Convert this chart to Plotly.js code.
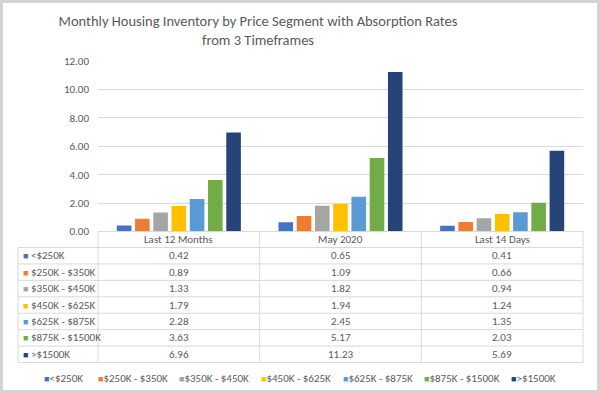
<!DOCTYPE html>
<html>
<head>
<meta charset="utf-8">
<script src="https://cdn.plot.ly/plotly-3.0.1.min.js"></script>
<style>html,body{margin:0;padding:0;background:#fff;}#chart{width:600px;height:393px;}</style>
</head>
<body>
<div id="chart"></div>
<script>
// ---- data ----
const categories = ['Last 12 Months', 'May 2020', 'Last 14 Days'];
const segments = ['<$250K', '$250K - $350K', '$350K - $450K', '$450K - $625K', '$625K - $875K', '$875K - $1500K', '>$1500K'];
const under250 = [0.42, 0.65, 0.41];
const s250to350 = [0.89, 1.09, 0.66];
const s350to450 = [1.33, 1.82, 0.94];
const s450to625 = [1.79, 1.94, 1.24];
const s625to875 = [2.28, 2.45, 1.35];
const s875to1500 = [3.63, 5.17, 2.03];
const over1500 = [6.96, 11.23, 5.69];
const yTicks = [0, 2, 4, 6, 8, 10, 12];

const seriesValues = [under250, s250to350, s350to450, s450to625, s625to875, s875to1500, over1500];
const colors = ['#4472C4', '#ED7D31', '#A5A5A5', '#FFC000', '#5B9BD5', '#70AD47', '#264478'];

// ---- layout helpers (pixel -> paper, margins are 0) ----
const W = 600, H = 393;
const px = v => v / W;
const py = v => 1 - v / H;
const FONT = 'Carlito, Lato, sans-serif';
const TXT = '#595959';
const GRID = '#d9d9d9';
const esc = s => s.replace(/&/g, '&amp;').replace(/</g, '&lt;').replace(/>/g, '&gt;');

const plotL = 98, plotR = 583, plotT = 61, plotB = 231.5;
const tblL = 18, hdrB = 247.5, tblB = 362.5;
const rowH = (tblB - hdrB) / segments.length;

const traces = segments.map((name, i) => ({
  type: 'bar',
  name: name,
  x: categories,
  y: seriesValues[i],
  marker: {color: colors[i]},
  showlegend: false,
  hovertemplate: name + ': %{y:.2f}<extra>%{x}</extra>'
}));

const shapes = [];
const annotations = [];
const line = {color: GRID, width: 1};
// table horizontal lines
shapes.push({type: 'line', xref: 'paper', yref: 'paper', x0: px(plotL), x1: px(plotR), y0: py(plotB), y1: py(plotB), line});
for (let r = 0; r <= segments.length; r++) {
  const y = hdrB + r * rowH;
  shapes.push({type: 'line', xref: 'paper', yref: 'paper', x0: px(tblL), x1: px(plotR), y0: py(y), y1: py(y), line});
}
// vertical lines
const colEdges = [plotL, plotL + (plotR - plotL) / 3, plotL + 2 * (plotR - plotL) / 3, plotR];
colEdges.forEach(x => shapes.push({type: 'line', xref: 'paper', yref: 'paper', x0: px(x), x1: px(x), y0: py(plotB), y1: py(tblB), line}));
shapes.push({type: 'line', xref: 'paper', yref: 'paper', x0: px(tblL), x1: px(tblL), y0: py(hdrB), y1: py(tblB), line});
// outer frame
shapes.push({type: 'rect', xref: 'paper', yref: 'paper', x0: 0, x1: 1, y0: 0, y1: 1, line: {color: '#d3d3d3', width: 6}});

// table header
categories.forEach(c => annotations.push({xref: 'x', yref: 'paper', x: c, y: py((plotB + hdrB) / 2), text: esc(c), showarrow: false, yanchor: 'middle', font: {family: FONT, size: 11, color: TXT}}));
// table rows
segments.forEach((s, i) => {
  const yc = py(hdrB + (i + 0.5) * rowH);
  annotations.push({xref: 'paper', yref: 'paper', x: px(tblL + 3), y: yc, xanchor: 'left', yanchor: 'middle', showarrow: false,
    text: '<span style="color:' + colors[i] + ';font-size:9px">■</span> ' + esc(s), font: {family: FONT, size: 11, color: TXT}});
  categories.forEach((c, j) => annotations.push({xref: 'x', yref: 'paper', x: c, y: yc, yanchor: 'middle', showarrow: false,
    text: seriesValues[i][j].toFixed(2), font: {family: FONT, size: 11, color: TXT}}));
});
// bottom legend
const legendX = [42, 96, 177, 259, 341, 422, 509];
segments.forEach((s, i) => annotations.push({xref: 'paper', yref: 'paper', x: px(legendX[i]), y: py(378), xanchor: 'left', yanchor: 'middle', showarrow: false,
  text: '<span style="color:' + colors[i] + ';font-size:9px">■</span>' + esc(s), font: {family: FONT, size: 11, color: TXT}}));

const layout = {
  width: W, height: H,
  margin: {l: 0, r: 0, t: 0, b: 0, pad: 0},
  paper_bgcolor: '#ffffff', plot_bgcolor: '#ffffff',
  title: {text: 'Monthly Housing Inventory by Price Segment with Absorption Rates<br>from 3 Timeframes',
    x: px(258), xanchor: 'center', y: py(26), yanchor: 'middle', yref: 'paper',
    font: {family: FONT, size: 14.5, color: TXT}},
  barmode: 'group', bargap: 0.21, bargroupgap: 0.2,
  xaxis: {domain: [px(plotL), px(plotR)], showticklabels: false, showgrid: false, zeroline: false, showline: false, ticks: '', fixedrange: true},
  yaxis: {domain: [py(plotB), py(plotT)], range: [0, 12], tickvals: yTicks, tickformat: '.2f', showgrid: true, gridcolor: GRID, gridwidth: 1,
    zeroline: false, showline: false, ticks: '', ticklabelstandoff: 8, tickfont: {family: FONT, size: 11, color: TXT}, fixedrange: true},
  shapes, annotations,
  showlegend: false
};

Plotly.newPlot('chart', traces, layout, {displayModeBar: false, staticPlot: true});
</script>
</body>
</html>
